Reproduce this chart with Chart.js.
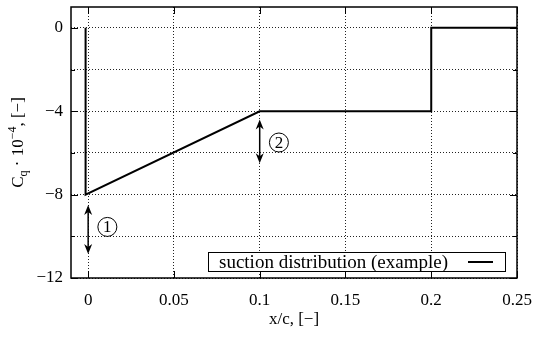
<!DOCTYPE html>
<html>
<head>
<meta charset="utf-8">
<script src="https://cdn.jsdelivr.net/npm/chart.js@4"></script>
<style>
  html, body { margin: 0; padding: 0; background: #fff; }
  #wrap { width: 536px; height: 341px; }
</style>
</head>
<body>
<div id="wrap"><canvas id="chart" width="536" height="341"></canvas></div>
<script>
// suction distribution along the chord
const xValues = [-0.0015, -0.0015, 0.1, 0.2, 0.2, 0.25];
const cqValues = [0, -8, -4, -4, 0, 0];

const xTicks = [0, 0.05, 0.1, 0.15, 0.2, 0.25];
const yTicks = [-12, -10, -8, -6, -4, -2, 0];
const yLabelTicks = [-12, -8, -4, 0];

// numbered double arrows
const markerNames = ['1', '2'];
const markerX = [0, 0.1];
const markerFrom = [-8.5, -4.4];
const markerTo = [-10.85, -6.5];
const markerLabelX = [0.0112, 0.1112];
const markerLabelY = [-9.55, -5.5];

const SERIF = '"Liberation Serif", "DejaVu Serif", serif';

function fmt(v) {
  const s = String(v);
  return v < 0 ? '\u2212' + s.slice(1) : s;
}

function arrowHead(ctx, x, y, dir) {
  ctx.beginPath();
  ctx.moveTo(x, y);
  ctx.lineTo(x - 4, y + dir * 10);
  ctx.lineTo(x, y + dir * 7);
  ctx.lineTo(x + 4, y + dir * 10);
  ctx.closePath();
  ctx.fill();
}

const decorations = {
  id: 'decorations',
  afterDatasetsDraw(chart) {
    const { ctx, chartArea: a, scales: { x, y } } = chart;
    ctx.save();
    ctx.strokeStyle = '#000';
    ctx.fillStyle = '#000';

    // inward tick marks on all four sides
    ctx.lineWidth = 1;
    ctx.beginPath();
    xTicks.forEach(v => {
      const px = Math.round(x.getPixelForValue(v)) + 0.5;
      ctx.moveTo(px, a.bottom); ctx.lineTo(px, a.bottom - 7);
      ctx.moveTo(px, a.top); ctx.lineTo(px, a.top + 7);
    });
    yTicks.forEach(v => {
      const py = Math.round(y.getPixelForValue(v)) + 0.5;
      const len = yLabelTicks.includes(v) ? 7 : 4;
      ctx.moveTo(a.left, py); ctx.lineTo(a.left + len, py);
      ctx.moveTo(a.right, py); ctx.lineTo(a.right - len, py);
    });
    ctx.stroke();

    // frame
    ctx.lineWidth = 1.5;
    ctx.strokeRect(a.left, a.top, a.right - a.left, a.bottom - a.top);

    // arrows with circled numbers
    markerNames.forEach((name, i) => {
      const px = x.getPixelForValue(markerX[i]);
      const y1 = y.getPixelForValue(markerFrom[i]);
      const y2 = y.getPixelForValue(markerTo[i]);
      ctx.lineWidth = 1.5;
      ctx.beginPath();
      ctx.moveTo(px, y1 + 5);
      ctx.lineTo(px, y2 - 5);
      ctx.stroke();
      arrowHead(ctx, px, y1, 1);
      arrowHead(ctx, px, y2, -1);

      const cx = x.getPixelForValue(markerLabelX[i]);
      const cy = y.getPixelForValue(markerLabelY[i]);
      ctx.lineWidth = 1;
      ctx.beginPath();
      ctx.arc(cx, cy, 9.5, 0, Math.PI * 2);
      ctx.stroke();
      ctx.font = '17px ' + SERIF;
      ctx.textAlign = 'center';
      ctx.textBaseline = 'middle';
      ctx.fillText(name, cx, cy + 1);
    });

    // legend box
    const lx = a.right - 309, ly = a.bottom - 26, lw = 297, lh = 19;
    ctx.fillStyle = '#fff';
    ctx.fillRect(lx, ly, lw, lh);
    ctx.lineWidth = 1;
    ctx.strokeStyle = '#000';
    ctx.strokeRect(lx + 0.5, ly + 0.5, lw, lh);
    ctx.fillStyle = '#000';
    ctx.font = '19px ' + SERIF;
    ctx.textAlign = 'left';
    ctx.textBaseline = 'middle';
    ctx.fillText('suction distribution (example)', lx + 11, ly + lh / 2 + 1.5);
    ctx.lineWidth = 2;
    ctx.beginPath();
    ctx.moveTo(lx + 260, ly + lh / 2 + 0.5);
    ctx.lineTo(lx + 285, ly + lh / 2 + 0.5);
    ctx.stroke();

    // axis titles
    ctx.font = '17px ' + SERIF;
    ctx.textAlign = 'center';
    ctx.textBaseline = 'alphabetic';
    ctx.fillText('x/c, [\u2212]', (a.left + a.right) / 2, 324);

    ctx.translate(23, (a.top + a.bottom) / 2);
    ctx.rotate(-Math.PI / 2);
    const parts = [
      { t: 'C', f: '17px ', dy: 0 },
      { t: 'q', f: '12px ', dy: 4 },
      { t: ' \u00b7 10', f: '17px ', dy: 0 },
      { t: '\u22124', f: '12px ', dy: -7 },
      { t: ', [\u2212]', f: '17px ', dy: 0 }
    ];
    let total = 0;
    parts.forEach(p => { ctx.font = p.f + SERIF; p.w = ctx.measureText(p.t).width; total += p.w; });
    let cx = -total / 2;
    ctx.textAlign = 'left';
    parts.forEach(p => {
      ctx.font = p.f + SERIF;
      ctx.fillText(p.t, cx, p.dy);
      cx += p.w;
    });
    ctx.restore();
  }
};

new Chart(document.getElementById('chart'), {
  type: 'scatter',
  data: {
    datasets: [{
      label: 'suction distribution (example)',
      data: xValues.map((v, i) => ({ x: v, y: cqValues[i] })),
      showLine: true,
      borderColor: '#000',
      borderWidth: 2,
      pointRadius: 0,
      tension: 0,
      fill: false
    }]
  },
  options: {
    responsive: false,
    animation: false,
    layout: { padding: { top: 7, right: 19, left: 0, bottom: 0 } },
    plugins: {
      legend: { display: false },
      tooltip: { enabled: false }
    },
    scales: {
      x: {
        type: 'linear',
        min: -0.01,
        max: 0.25,
        afterBuildTicks: s => { s.ticks = xTicks.map(v => ({ value: v })); },
        afterFit: s => { s.height = 63; s.paddingLeft = 0; s.paddingRight = 0; },
        border: { display: false, dash: [1, 2] },
        grid: { color: '#222', lineWidth: 1, drawTicks: false },
        ticks: {
          padding: 12,
          color: '#000',
          font: { family: SERIF, size: 17 },
          maxRotation: 0,
          callback: v => fmt(v)
        }
      },
      y: {
        type: 'linear',
        min: -12,
        max: 1,
        afterBuildTicks: s => { s.ticks = yTicks.map(v => ({ value: v })); },
        afterFit: s => { s.width = 71; s.paddingTop = 0; s.paddingBottom = 0; },
        border: { display: false, dash: [1, 2] },
        grid: { color: '#222', lineWidth: 1, drawTicks: false },
        ticks: {
          padding: 8,
          color: '#000',
          font: { family: SERIF, size: 17 },
          callback: v => yLabelTicks.includes(v) ? fmt(v) : ''
        }
      }
    }
  },
  plugins: [decorations]
});
</script>
</body>
</html>
